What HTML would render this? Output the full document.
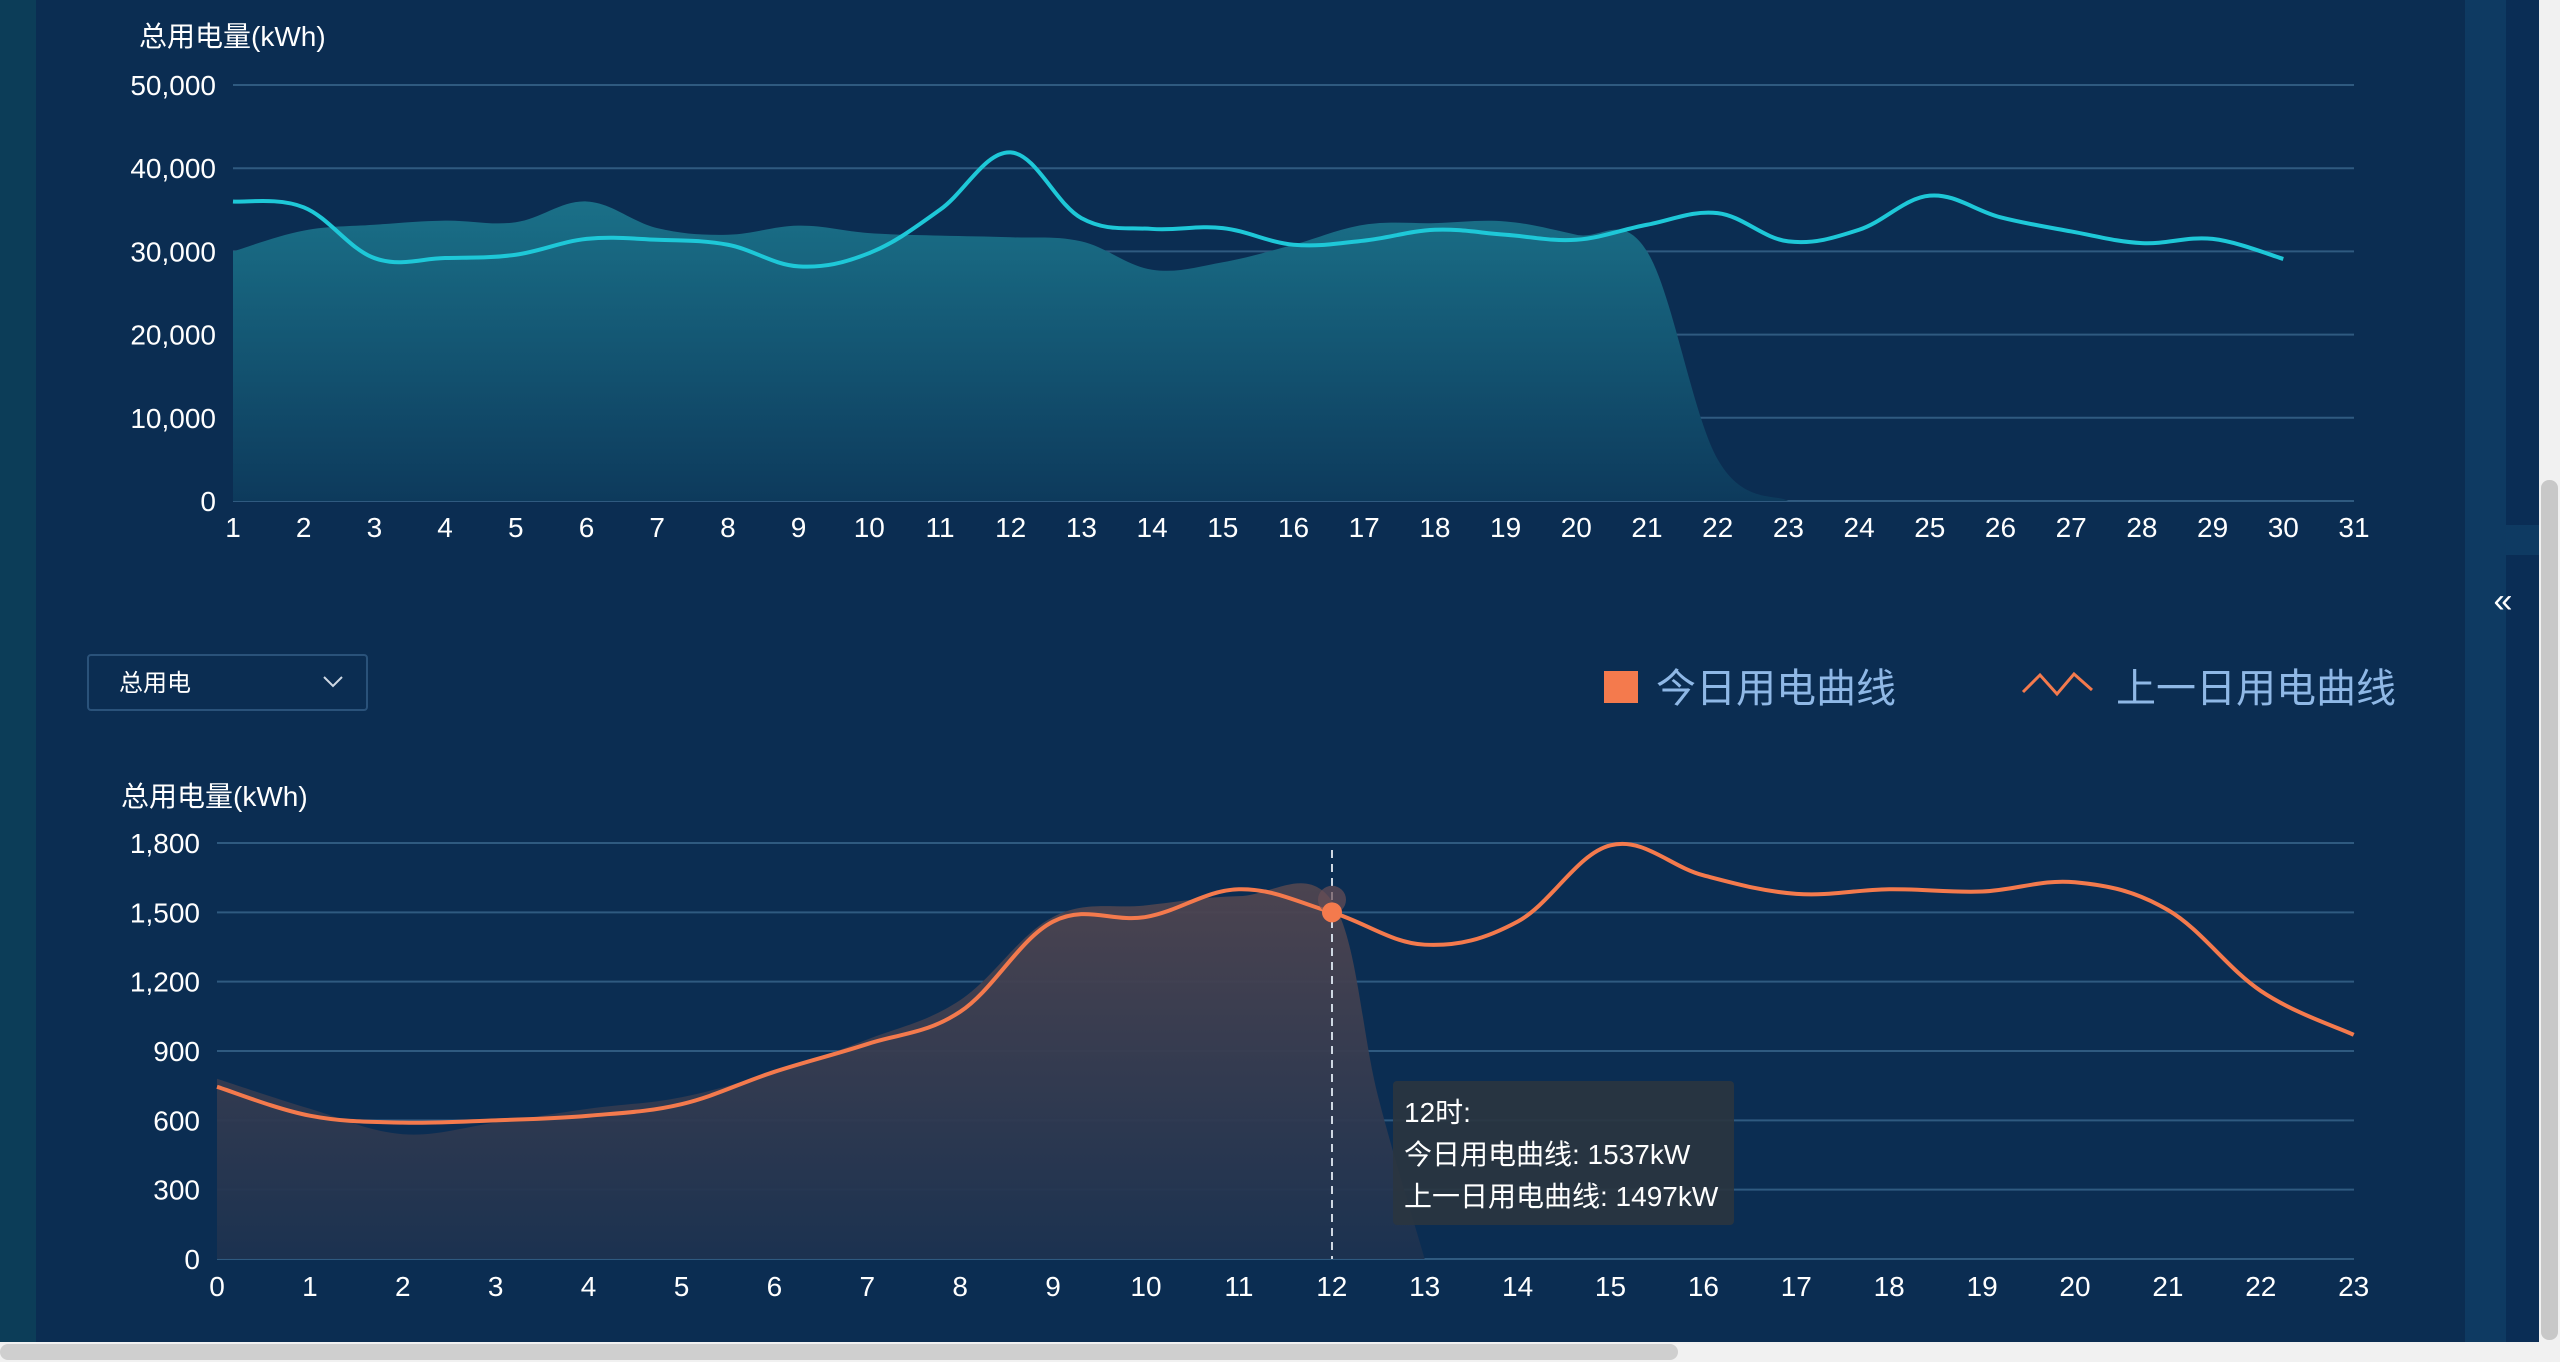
<!DOCTYPE html>
<html><head><meta charset="utf-8"><style>
html,body{margin:0;padding:0;width:2560px;height:1362px;overflow:hidden;background:#0b2d52;}
svg{display:block}
text{font-family:"Liberation Sans","Noto Sans CJK SC",sans-serif;}
</style></head><body>
<svg id="s" width="2560" height="1362" viewBox="0 0 2560 1362" xmlns="http://www.w3.org/2000/svg">
<defs>
<linearGradient id="gt" x1="0" y1="0" x2="0" y2="1"><stop offset="0" stop-color="#1a7088"/><stop offset="1" stop-color="#0d3a5c"/></linearGradient>
<linearGradient id="gb" x1="0" y1="0" x2="0" y2="1"><stop offset="0" stop-color="#4f4550"/><stop offset="1" stop-color="#1c3250"/></linearGradient>
</defs>
<rect x="0" y="0" width="2560" height="1362" fill="#0b2d52"/>
<rect x="0" y="0" width="36" height="1362" fill="#0c3d58"/>
<rect x="2465" y="0" width="41" height="1342" fill="#0e3a62"/>
<rect x="2506" y="0" width="33" height="525" fill="#0a2d55"/>
<rect x="2506" y="525" width="33" height="30" fill="#0e3a62"/>
<rect x="2506" y="555" width="33" height="787" fill="#0a2d55"/>
<rect x="2539" y="0" width="21" height="1362" fill="#f1f1f1"/>
<rect x="2541" y="480" width="17" height="860" rx="8" fill="#c8c8c8"/>
<rect x="0" y="1342" width="2560" height="20" fill="#f1f1f1"/>
<rect x="0" y="1344" width="1678" height="16" rx="8" fill="#cfcfcf"/>
<text x="2503" y="612" fill="#fff" font-size="34" text-anchor="middle">«</text>
<g id="g"></g>
<text x="139" y="46" fill="#fff" font-size="28">总用电量(kWh)</text>
<text x="121" y="806" fill="#fff" font-size="28">总用电量(kWh)</text>
<rect x="88" y="655" width="279" height="55" rx="3" fill="#0b2d52" stroke="#2a527a" stroke-width="2"/>
<text x="119" y="691" fill="#fff" font-size="24">总用电</text>
<polyline points="324,677 333,686 342,677" fill="none" stroke="#cfd8e3" stroke-width="2"/>
<rect x="1604" y="671" width="34" height="32" fill="#f47a4d"/>
<text x="1656" y="702" fill="#8fb8e6" font-size="40">今日用电曲线</text>
<polyline points="2023,692 2040,675 2057,694 2074,674 2092,690" fill="none" stroke="#f47a4d" stroke-width="3"/>
<text x="2116" y="702" fill="#8fb8e6" font-size="40">上一日用电曲线</text>
</svg>
<script>
var g=document.getElementById('g'),NS='http://www.w3.org/2000/svg';
function el(t,a,txt){var e=document.createElementNS(NS,t);for(var k in a)e.setAttribute(k,a[k]);if(txt!=null)e.textContent=txt;g.appendChild(e);return e;}
function smooth(p){var d='M'+p[0][0]+','+p[0][1];for(var i=0;i<p.length-1;i++){var p0=p[i-1]||p[i],p1=p[i],p2=p[i+1],p3=p[i+2]||p2;var t=0.18;
d+=' C'+(p1[0]+(p2[0]-p0[0])*t)+','+(p1[1]+(p2[1]-p0[1])*t)+' '+(p2[0]-(p3[0]-p1[0])*t)+','+(p2[1]-(p3[1]-p1[1])*t)+' '+p2[0]+','+p2[1];}return d;}
// top
var tx=function(d){return 233+(d-1)*70.7},ty=function(v){return 501-v*0.00832};
for(var i=0;i<=5;i++){var y=ty(i*10000);el('line',{x1:233,x2:2354,y1:y,y2:y,stroke:'#2f5a80','stroke-width':2});el('text',{x:216,y:y+10,fill:'#fff','font-size':28,'text-anchor':'end'},(i*10000).toLocaleString('en-US'));}
for(var d=1;d<=31;d++)el('text',{x:tx(d),y:537,fill:'#fff','font-size':28,'text-anchor':'middle'},d);
var A=[30000,32500,33200,33700,33500,36000,32800,32000,33100,32200,31900,31700,31200,27800,28700,30800,33200,33400,33600,32000,30000,5000,0];
var pa=A.map(function(v,i){return[tx(i+1),ty(v)]});
el('path',{d:smooth(pa)+' L'+tx(23)+',501 L233,501 Z',fill:'url(#gt)'});
var L=[36000,35300,29200,29200,29600,31500,31400,30800,28200,29800,35000,41900,34000,32700,32800,30800,31300,32600,32000,31400,33200,34600,31200,32600,36700,34100,32400,31000,31500,29100];
el('path',{d:smooth(L.map(function(v,i){return[tx(i+1),ty(v)]})),fill:'none',stroke:'#1ec8d8','stroke-width':4});
// bottom
var bx=function(h){return 217+h*92.9},by=function(v){return 1259-v*416/1800};
for(var i=0;i<=6;i++){var y=by(i*300);el('line',{x1:217,x2:2354,y1:y,y2:y,stroke:'#2f5a80','stroke-width':2});el('text',{x:200,y:y+10,fill:'#fff','font-size':28,'text-anchor':'end'},(i*300).toLocaleString('en-US'));}
for(var h=0;h<=23;h++)el('text',{x:bx(h),y:1296,fill:'#fff','font-size':28,'text-anchor':'middle'},h);
var B=[780,650,540,590,650,700,810,950,1120,1480,1530,1570,1550];
var pb=B.map(function(v,i){return[bx(i),by(v)]});pb.push([bx(12.5),by(700)]);pb.push([bx(13),by(0)]);
el('path',{d:smooth(pb)+' L217,1259 Z',fill:'url(#gb)',opacity:0.95});
var O=[745,620,590,600,620,670,810,930,1070,1460,1480,1600,1500,1360,1460,1790,1660,1580,1600,1590,1630,1510,1160,970];
el('line',{x1:1332,x2:1332,y1:850,y2:1259,stroke:'#cfd8e3','stroke-width':2,'stroke-dasharray':'8,6'});
el('path',{d:smooth(O.map(function(v,i){return[bx(i),by(v)]})),fill:'none',stroke:'#f47a4d','stroke-width':4});
el('circle',{cx:1332,cy:by(1537)-4,r:14,fill:'#6a4f55',opacity:0.7});
el('circle',{cx:1332,cy:by(1500),r:10,fill:'#f47a4d'});
el('rect',{x:1393,y:1081,width:341,height:144,rx:4,fill:'#2a3540',opacity:0.92});
el('text',{x:1404,y:1122,fill:'#fff','font-size':28},'12时:');
el('text',{x:1404,y:1164,fill:'#fff','font-size':28},'今日用电曲线: 1537kW');
el('text',{x:1404,y:1206,fill:'#fff','font-size':28},'上一日用电曲线: 1497kW');
</script>
</body></html>
